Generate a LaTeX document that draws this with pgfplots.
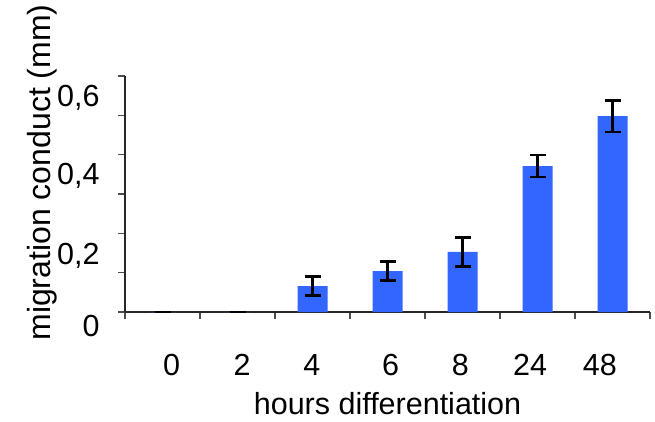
\documentclass[border=0pt]{standalone}
\usepackage{fontspec}
\setmainfont{Liberation Sans}
\usepackage{pgfplots}
\pgfplotsset{compat=1.18}
\definecolor{barblue}{RGB}{51,102,255}
\newcommand{\bigfont}{\fontsize{30.5}{36}\selectfont}
\begin{document}
\begin{tikzpicture}
\useasboundingbox (0pt,0pt) rectangle (655pt,421pt);
\begin{axis}[
  at={(125pt,109pt)}, anchor=south west,
  scale only axis, width=525pt, height=236pt,
  xmin=-0.5, xmax=6.5, ymin=0, ymax=0.6,
  axis lines=left,
  axis line style={-, line width=1.4pt, black!85},
  tick align=outside,
  xtick={0.12,1.06,1.99,3.04,3.97,4.90,5.83},
  xticklabels={0,2,4,6,8,24,48},
  ytick={0.013,0.196,0.4,0.6},
  yticklabels={0,{0,2},{0,4},{0,6}},
  major tick length=0pt,
  minor xtick={-0.5,0.5,...,6.5},
  minor ytick={0,0.1,...,0.6},
  minor tick length=7pt,
  minor tick style={line width=1.3pt, black!70},
  /pgf/number format/assume math mode=true,
  tick label style={font=\bigfont},
  xticklabel style={anchor=base, yshift=-63pt},
  yticklabel style={anchor=base east, xshift=-22pt, yshift=-30pt},
  xlabel={hours differentiation},
  ylabel={migration conduct (mm)},
  label style={font=\bigfont},
  xlabel style={at={(axis description cs:0.5,-0.436)}, anchor=base},
  ylabel style={at={(axis description cs:-0.158,0.591)}, anchor=center, rotate=0,
    font=\fontsize{32}{38}\selectfont},
  clip=false,
]
\addplot[
  ybar, bar width=30pt, fill=barblue, draw=none,
  error bars/.cd, y dir=both, y explicit,
  error bar style={line width=2.5pt, black},
  error mark options={rotate=90, mark size=8pt, line width=2.5pt, black},
] table[x=x, y=y, y error=e] {
x y e
0 0 0
1 0 0
2 0.066 0.024
3 0.104 0.024
4 0.153 0.037
5 0.371 0.028
6 0.498 0.040
};
\end{axis}
\end{tikzpicture}
\end{document}
